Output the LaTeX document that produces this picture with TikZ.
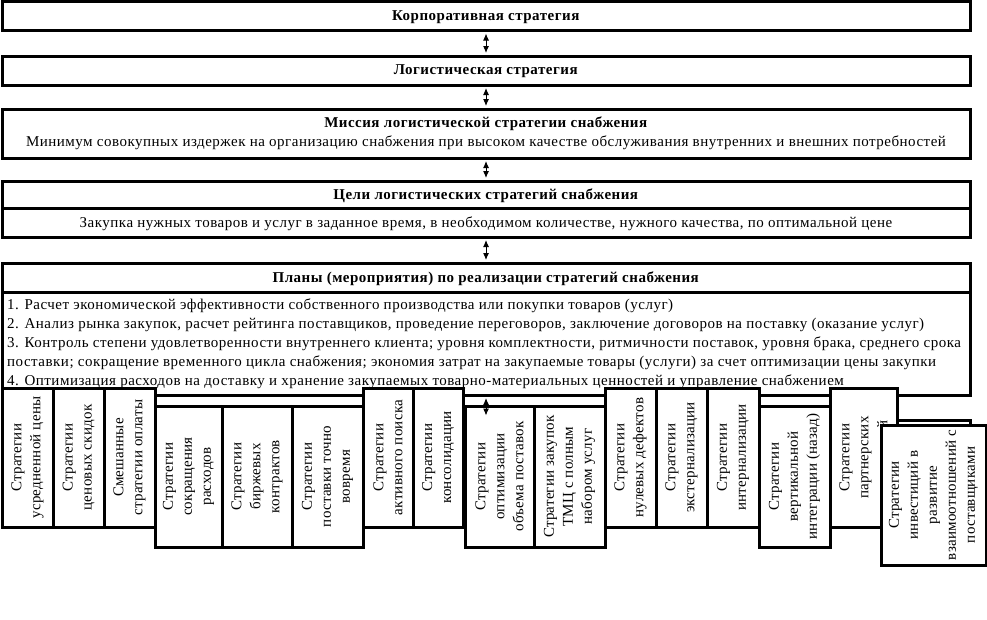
\documentclass[tikz,border=0pt]{standalone}
\usepackage{fontspec}
\setmainfont{Liberation Serif}
\newfontfamily\wideserif[LetterSpace=3.3]{Liberation Serif}
\newfontfamily\midserif[LetterSpace=1.5]{Liberation Serif}
\usetikzlibrary{arrows.meta}
\tikzset{
  bx/.style={draw, line width=3pt, fill=white, inner sep=0pt, align=center,
    font=\wideserif\fontsize{15}{19}\selectfont},
  onel/.style={text depth=1pt},
  vbx/.style={bx, rotate=90, font=\midserif\fontsize{15}{19}\selectfont},
  arr/.style={line width=1pt, {Latex[length=7pt,width=6pt]}-{Latex[length=7pt,width=6pt]},
    shorten <=1.5pt, shorten >=1.5pt}
}
\newcommand\stratbox[6]{%
  \node[vbx, minimum width={#5-#4}, minimum height={#3-#2}] (#1) at ({(#2+#3)/2},{(#4+#5)/2}) {#6};}
\begin{document}
\begin{tikzpicture}[x=1pt,y=-1pt]
\useasboundingbox[fill=white] (0,0) rectangle (987,619);
\node[bx, onel, minimum width=968, minimum height=29] (b1) at (486,16) {\textbf{Корпоративная стратегия}};
\node[bx, onel, minimum width=968, minimum height=29] (b2) at (486,70.5) {\textbf{Логистическая стратегия}};
\node[bx, minimum width=968, minimum height=49] (b3) at (486,133.5) {\textbf{Миссия логистической стратегии снабжения}\\Минимум совокупных издержек на организацию снабжения при высоком качестве обслуживания внутренних и внешних потребностей};
\node[bx, onel, minimum width=968, minimum height=27] (b4t) at (486,194.5) {\textbf{Цели логистических стратегий снабжения}};
\node[bx, onel, minimum width=968, minimum height=29] (b4b) at (486,222.5) {Закупка нужных товаров и услуг в заданное время, в необходимом количестве, нужного качества, по оптимальной цене};
\node[bx, onel, minimum width=968, minimum height=29] (b5t) at (486,277.5) {\textbf{Планы (мероприятия) по реализации стратегий снабжения}};
\node[bx, minimum width=968, minimum height=103] (b5b) at (486,343.5) {};
\node[anchor=north west, inner sep=0pt, align=left, font=\wideserif\fontsize{15}{19}\selectfont] (b5txt) at (7,299) {1. Расчет экономической эффективности собственного производства или покупки товаров (услуг)\\
2. Анализ рынка закупок, расчет рейтинга поставщиков, проведение переговоров, заключение договоров на поставку (оказание услуг)\\
3. Контроль степени удовлетворенности внутреннего клиента; уровня комплектности, ритмичности поставок, уровня брака, среднего срока\\
поставки; сокращение временного цикла снабжения; экономия затрат на закупаемые товары (услуги) за счет оптимизации цены закупки\\
4. Оптимизация расходов на доставку и хранение закупаемых товарно-материальных ценностей и управление снабжением};
\draw[arr] (b1.south) -- (b2.north);
\draw[arr] (b2.south) -- (b3.north);
\draw[arr] (b3.south) -- (b4t.north);
\draw[arr] (b4b.south) -- (b5t.north);
\stratbox{sA}{2}{53}{388}{527}{Стратегии\\усредненной цены}
\stratbox{sB}{53}{104}{388}{527}{Стратегии\\ценовых скидок}
\stratbox{sC}{104}{155}{388}{527}{Смешанные\\стратегии оплаты}
\stratbox{sD}{155}{222}{406}{547}{Стратегии\\сокращения\\расходов}
\stratbox{sE}{222}{292}{406}{547}{Стратегии\\биржевых\\контрактов}
\stratbox{sF}{292}{363}{406}{547}{Стратегии\\поставки точно\\вовремя}
\stratbox{sG}{363}{413}{388}{527}{Стратегии\\активного поиска}
\stratbox{sH}{413}{463}{388}{527}{Стратегии\\консолидации}
\stratbox{sI}{465}{534}{406}{547}{Стратегии\\оптимизации\\объема поставок}
\stratbox{sJ}{534}{605}{406}{547}{Стратегии закупок\\ТМЦ с полным\\набором услуг}
\stratbox{sK}{605}{656}{388}{527}{Стратегии\\нулевых дефектов}
\stratbox{sL}{656}{707}{388}{527}{Стратегии\\экстернализации}
\stratbox{sM}{707}{759}{388}{527}{Стратегии\\интернализации}
\stratbox{sN}{759}{830}{406}{547}{Стратегии\\вертикальной\\интеграции (назад)}
\stratbox{sP}{885}{970}{420}{540}{}
\stratbox{sO}{830}{897}{388}{527}{Стратегии\\партнерских\\отношений}
\stratbox{sQ}{881}{986}{425}{565}{Стратегии\\инвестиций в\\развитие\\взаимоотношений с\\поставщиками}
\coordinate (arrend) at (486,417);
\draw[arr] (b5b.south) -- (arrend);
\end{tikzpicture}
\end{document}
